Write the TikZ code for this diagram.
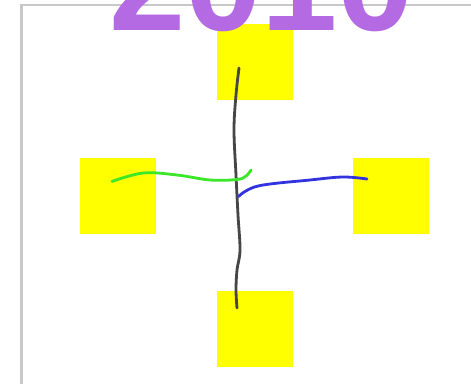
\documentclass[tikz,border=0pt]{standalone}
\usepackage{fontspec}
\setmainfont{Liberation Sans}
\definecolor{yearpurple}{RGB}{179,106,226}
\definecolor{stickyyellow}{RGB}{255,255,0}
\definecolor{pengreen}{RGB}{60,230,40}
\definecolor{penblue}{RGB}{50,50,225}
\definecolor{penblack}{RGB}{70,70,70}
\definecolor{framegray}{RGB}{200,200,200}
\tikzset{
  sticky/.style={fill=stickyyellow, draw=none, minimum size=76pt, inner sep=0pt, outer sep=0pt},
  pen/.style={line width=2.8pt, line cap=round, line join=round},
}
\begin{document}
\begin{tikzpicture}[x=1pt,y=-1pt]
\useasboundingbox (0,0) rectangle (471,383);
\fill[white] (0,0) rectangle (471,383);
% frame
\draw[framegray, line width=2.6pt] (21.5,390) -- (21.5,5) -- (480,5);
% sticky notes
\node[sticky] (top) at (255,61.5) {};
\node[sticky] (left) at (118,195.5) {};
\node[sticky] (right) at (391,195.5) {};
\node[sticky] (bottom) at (255,328.5) {};
% year
\node[anchor=base west, inner sep=0pt, text=yearpurple, font=\fontsize{137}{137}\selectfont\bfseries] (year) at (109,30) {2010};
% stroke endpoints
\coordinate (bs) at (239,68);
\coordinate (be) at (237,308);
\coordinate (gs) at (112,181.5);
\coordinate (ge) at (251,170);
\coordinate (ls) at (238.5,196.5);
\coordinate (le) at (367,179);
% strokes
\draw[pen, penblack] plot[smooth, tension=0.6] coordinates {(bs) (236,95) (234,130) (236,175) (238,215) (240,250) (237,270) (236,290) (be)};
\draw[pen, pengreen] plot[smooth, tension=0.6] coordinates {(gs) (143,173) (177,175) (210,180) (237,179.5) (246,176) (ge)};
\draw[pen, penblue] plot[smooth, tension=0.6] coordinates {(ls) (258,186) (310,180) (343,177) (le)};
\end{tikzpicture}
\end{document}
